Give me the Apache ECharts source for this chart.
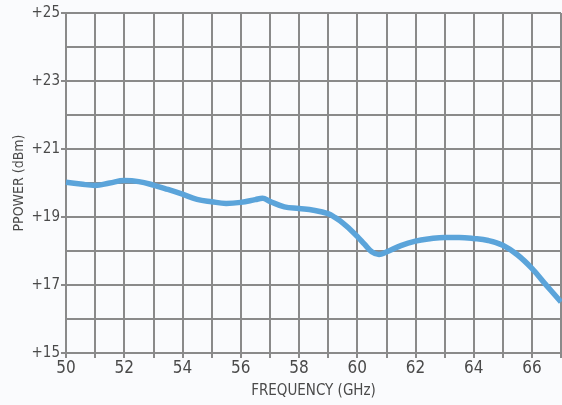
<!DOCTYPE html>
<html><head><meta charset="utf-8">
<script src="https://cdn.jsdelivr.net/npm/echarts@6/dist/echarts.min.js"></script>
<style>html,body{margin:0;padding:0;background:#fafbfd;}#c{width:562px;height:405px;}</style>
</head><body><div id="c"></div>
<script>
const freq  = [50, 50.5, 51, 51.5, 52, 52.5, 53, 53.5, 54, 54.5, 55, 55.5, 56, 56.5, 56.75, 57, 57.5, 58, 58.5, 59, 59.25, 59.5, 59.75, 60, 60.25, 60.5, 60.75, 61, 61.5, 62, 62.5, 63, 63.5, 64, 64.5, 65, 65.5, 66, 66.5, 67];
const power = [20.02, 19.97, 19.93, 20.0, 20.07, 20.04, 19.94, 19.81, 19.67, 19.52, 19.45, 19.4, 19.43, 19.51, 19.55, 19.46, 19.3, 19.25, 19.2, 19.1, 18.98, 18.83, 18.64, 18.43, 18.2, 17.98, 17.9, 17.97, 18.16, 18.29, 18.36, 18.4, 18.4, 18.37, 18.31, 18.17, 17.89, 17.49, 16.99, 16.5];
const yTicks = [15, 17, 19, 21, 23, 25];
const xTicks = [50, 52, 54, 56, 58, 60, 62, 64, 66];

const font = '"DejaVu Sans Condensed", "Liberation Sans Narrow", sans-serif';
const gridColor = '#8a8a8a';
const textColor = '#4a4a4a';
const chart = echarts.init(document.getElementById('c'));
chart.setOption({
  backgroundColor: '#fafbfd',
  animation: false,
  grid: {left: 66, right: 1, top: 13, bottom: 52},
  xAxis: {
    type: 'value', min: 50, max: 67, interval: 1,
    name: 'FREQUENCY (GHz)', nameLocation: 'middle', nameGap: 31,
    nameTextStyle: {fontFamily: font, fontSize: 15, color: textColor},
    axisLine: {show: true, lineStyle: {color: gridColor, width: 2}},
    axisTick: {show: true, length: 5, lineStyle: {color: gridColor, width: 2}},
    axisLabel: {customValues: xTicks, fontFamily: font, fontSize: 17, color: textColor, margin: 7},
    splitLine: {show: true, lineStyle: {color: gridColor, width: 2}}
  },
  yAxis: {
    type: 'value', min: 15, max: 25, interval: 2,
    name: 'PPOWER (dBm)', nameLocation: 'middle', nameGap: 40, nameRotate: 90,
    nameMoveOverlap: false,
    nameTextStyle: {fontFamily: font, fontSize: 14, color: textColor},
    axisLine: {show: true, lineStyle: {color: gridColor, width: 2}},
    axisTick: {show: true, length: 5, lineStyle: {color: gridColor, width: 2}},
    minorTick: {show: false, splitNumber: 2},
    minorSplitLine: {show: true, lineStyle: {color: gridColor, width: 2}},
    axisLabel: {formatter: v => '+' + v, fontFamily: font, fontSize: 15, color: textColor, margin: 6},
    splitLine: {show: true, lineStyle: {color: gridColor, width: 2}}
  },
  series: [{
    type: 'line', smooth: 0.4, showSymbol: false,
    data: freq.map((f, i) => [f, power[i]]),
    lineStyle: {color: '#5ba4da', width: 5.5},
    itemStyle: {color: '#5ba4da'}
  }]
});
</script></body></html>
